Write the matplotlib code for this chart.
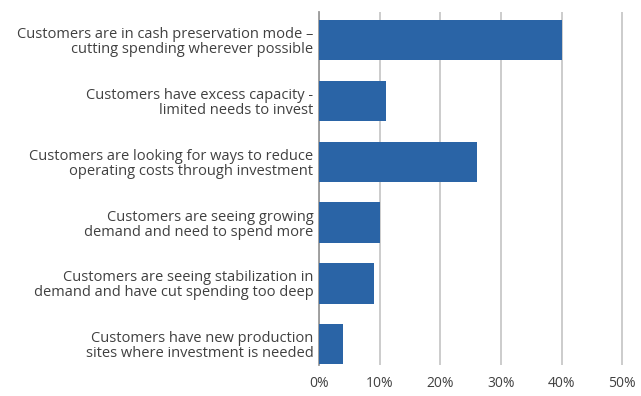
import numpy as np
import matplotlib
matplotlib.use("Agg")
import matplotlib.pyplot as plt

# Reasons cited, top to bottom, with share of respondents (%)
razoes = [
    "Customers are in cash preservation mode –\ncutting spending wherever possible",
    "Customers have excess capacity -\nlimited needs to invest",
    "Customers are looking for ways to reduce\noperating costs through investment",
    "Customers are seeing growing\ndemand and need to spend more",
    "Customers are seeing stabilization in\ndemand and have cut spending too deep",
    "Customers have new production\nsites where investment is needed",
]
percentuais = [40, 11, 26, 10, 9, 4]
ticks_x = [0, 10, 20, 30, 40, 50]

AZUL = "#2a64a6"
CINZA_TXT = "#404040"

plt.rcParams["font.family"] = ["Open Sans", "DejaVu Sans"]

fig = plt.figure(figsize=(6.41, 3.96), dpi=100)
ax = fig.add_axes([0.4977, 0.0783, 0.4789, 0.8914])

y = np.arange(len(razoes))
ax.barh(y, percentuais, height=0.66, color=AZUL, zorder=3)

ax.set_xlim(0, 50.6)
ax.set_ylim(len(razoes) - 1 + 0.34, -0.46)
ax.set_xticks(ticks_x)
ax.set_xticklabels([f"{t}%" for t in ticks_x], fontsize=10, color=CINZA_TXT)
ax.set_yticks(y)
ax.set_yticklabels(razoes, fontsize=10.5, color=CINZA_TXT, linespacing=1.0)
ax.tick_params(axis="both", length=0, pad=4)
ax.tick_params(axis="x", pad=8)

ax.grid(axis="x", color="#c8c8c8", linewidth=1.3, zorder=0)
for s in ["top", "right", "bottom"]:
    ax.spines[s].set_visible(False)
ax.spines["left"].set_color("#9a9a9a")
ax.spines["left"].set_linewidth(1.3)

fig.savefig("out.png", dpi=100)
plt.close(fig)
